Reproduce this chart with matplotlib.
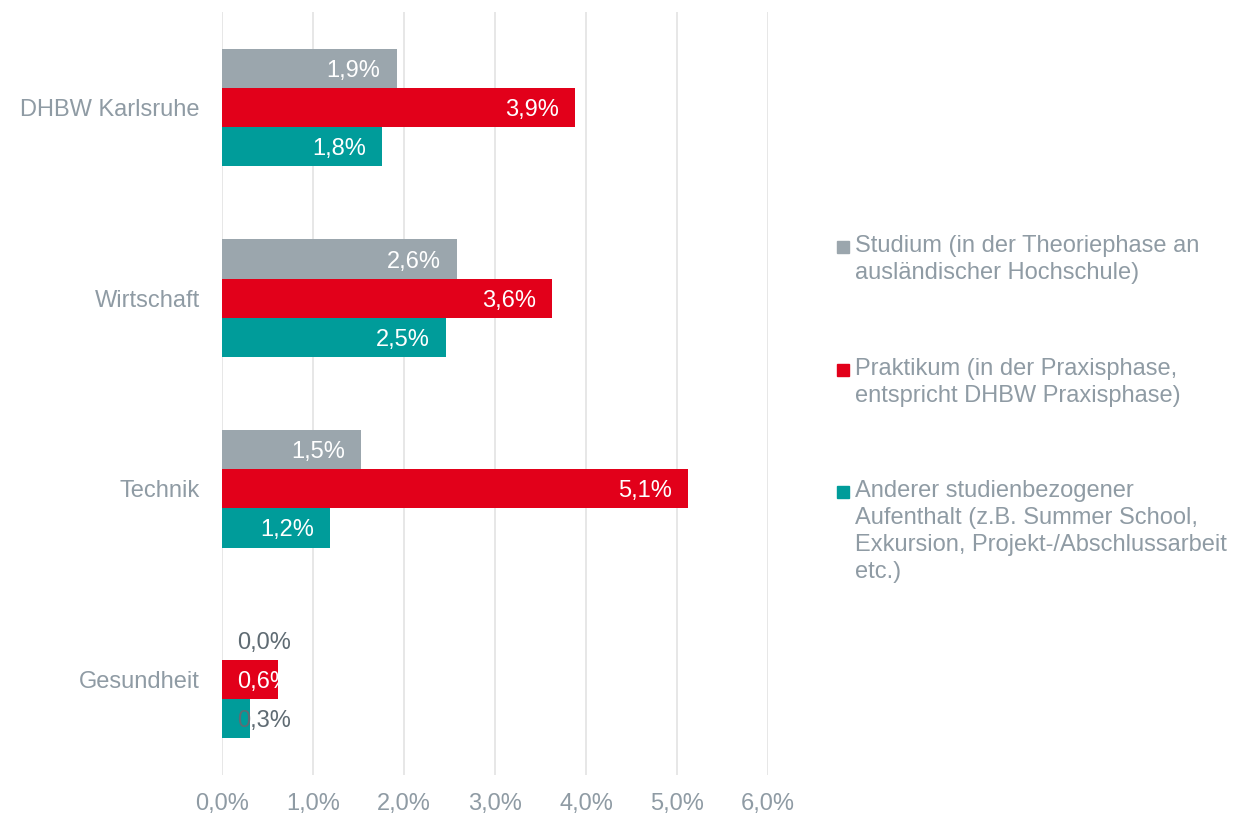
import matplotlib.pyplot as plt
from matplotlib.patches import Rectangle
import numpy as np

plt.rcParams['font.family'] = ['Liberation Sans', 'DejaVu Sans']

# data (percent)
categories = ['DHBW Karlsruhe', 'Wirtschaft', 'Technik', 'Gesundheit']
studium = [1.92, 2.58, 1.53, 0.0]
praktikum = [3.88, 3.63, 5.12, 0.62]
anderer = [1.76, 2.46, 1.19, 0.31]
labels_studium = ['1,9%', '2,6%', '1,5%', '0,0%']
labels_praktikum = ['3,9%', '3,6%', '5,1%', '0,6%']
labels_anderer = ['1,8%', '2,5%', '1,2%', '0,3%']
legend_texts = ['Studium (in der Theoriephase an\nausländischer Hochschule)',
                'Praktikum (in der Praxisphase,\nentspricht DHBW Praxisphase)',
                'Anderer studienbezogener\nAufenthalt (z.B. Summer School,\nExkursion, Projekt-/Abschlussarbeit\netc.)']
xticks = [0, 1, 2, 3, 4, 5, 6]
xtick_labels = ['0,0%', '1,0%', '2,0%', '3,0%', '4,0%', '5,0%', '6,0%']

colors = ['#9ba6ad', '#e2001a', '#009c9a']
axis_grey = '#8f9ba4'
dark_grey = '#5f6b73'
fs = 17

fig = plt.figure(figsize=(12.36, 8.15), dpi=100)
ax = fig.add_axes([222 / 1236, 1 - 775 / 815, (768 - 222) / 1236, (775 - 12) / 815])

y = np.arange(len(categories))
h = 0.205
series = [(studium, labels_studium), (praktikum, labels_praktikum), (anderer, labels_anderer)]
for i, (vals, labs) in enumerate(series):
    pos = y + (i - 1) * h
    ax.barh(pos, vals, height=h, color=colors[i], zorder=2)
    for p, v, t in zip(pos, vals, labs):
        right = v - 0.18
        if right - 0.65 < 0.165:
            ax.text(0.165, p, t, ha='left', va='center_baseline', fontsize=fs,
                    color='white' if v > 0.5 else dark_grey, zorder=3)
        else:
            ax.text(right, p, t, ha='right', va='center_baseline', fontsize=fs,
                    color='white', zorder=3)

ax.set_xlim(-0.0, 6.0)
ax.set_ylim(3.5, -0.5)
ax.set_xticks(xticks)
ax.set_xticklabels(xtick_labels)
ax.set_yticks(y)
ax.set_yticklabels(categories, va='center_baseline')
ax.tick_params(axis='both', length=0, labelsize=fs, labelcolor=axis_grey)
ax.tick_params(axis='x', pad=13)
ax.tick_params(axis='y', pad=16)
ax.grid(axis='x', color='#e3e3e3', linewidth=1.2, zorder=0)
for s in ax.spines.values():
    s.set_visible(False)

# legend drawn manually
tops = [235, 358, 480]
for c, t, top in zip(colors, legend_texts, tops):
    fig.text(855 / 1236, 1 - top / 815, t, ha='left', va='top', fontsize=fs,
             color=axis_grey, linespacing=1.3)
    fig.add_artist(Rectangle((837 / 1236, 1 - (top + 18) / 815), 12 / 1236, 12 / 815,
                             transform=fig.transFigure, color=c))

fig.savefig('out.png', dpi=100)
